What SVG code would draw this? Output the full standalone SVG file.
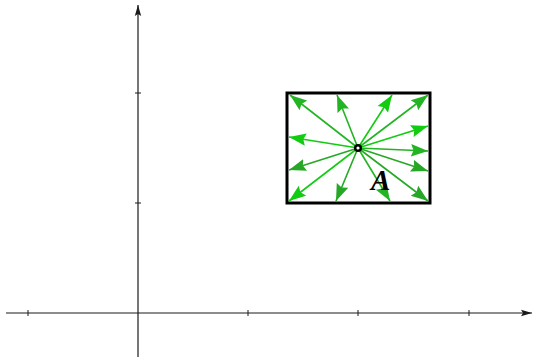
<svg xmlns="http://www.w3.org/2000/svg" width="533" height="357" viewBox="0 0 533 357">
<style>
.axis{stroke:#1a1a1a;stroke-width:1.2;fill:none}
.tick{stroke:#1a1a1a;stroke-width:1}
.vec{stroke-width:1.6;fill:none}
.g1{stroke:#22b422}
.g2{stroke:#11cc11}
.g3{stroke:#26a826}
</style>
<defs>
<marker id="ax" markerUnits="userSpaceOnUse" markerWidth="12" markerHeight="8" viewBox="0 0 12 8" refX="11" refY="4" orient="auto">
<path d="M0,0.8 L11,4 L0,7.2 L2,4 Z" fill="#1a1a1a"/>
</marker>
<marker id="m1" markerUnits="userSpaceOnUse" markerWidth="18" markerHeight="14" viewBox="0 0 18 14" refX="17" refY="7" orient="auto">
<path d="M0,0.8 L17,7 L0,13.2 L2.5,7 Z" fill="#22b422"/>
</marker>
<marker id="m2" markerUnits="userSpaceOnUse" markerWidth="18" markerHeight="14" viewBox="0 0 18 14" refX="17" refY="7" orient="auto">
<path d="M0,0.8 L17,7 L0,13.2 L2.5,7 Z" fill="#11cc11"/>
</marker>
<marker id="m3" markerUnits="userSpaceOnUse" markerWidth="18" markerHeight="14" viewBox="0 0 18 14" refX="17" refY="7" orient="auto">
<path d="M0,0.8 L17,7 L0,13.2 L2.5,7 Z" fill="#26a826"/>
</marker>
</defs>
<rect width="533" height="357" fill="#ffffff"/>
<g id="axes">
<line class="axis" x1="6" y1="313" x2="532" y2="313" marker-end="url(#ax)"/>
<line class="axis" x1="138" y1="357" x2="138" y2="5" marker-end="url(#ax)"/>
<line class="tick" x1="28" y1="310" x2="28" y2="316"/>
<line class="tick" x1="248" y1="310" x2="248" y2="316"/>
<line class="tick" x1="358" y1="310" x2="358" y2="316"/>
<line class="tick" x1="469" y1="310" x2="469" y2="316"/>
<line class="tick" x1="135" y1="203" x2="141" y2="203"/>
<line class="tick" x1="135" y1="93" x2="141" y2="93"/>
</g>
<g id="region-A">
<rect x="287" y="93" width="143" height="110" fill="none" stroke="#000" stroke-width="3"/>
</g>
<g id="connectors">
<line class="vec g1" x1="358" y1="148" x2="290" y2="95" marker-end="url(#m1)"/>
<line class="vec g1" x1="358" y1="148" x2="337" y2="95" marker-end="url(#m1)"/>
<line class="vec g2" x1="358" y1="148" x2="392" y2="95" marker-end="url(#m2)"/>
<line class="vec g1" x1="358" y1="148" x2="428" y2="95" marker-end="url(#m1)"/>
<line class="vec g2" x1="358" y1="148" x2="428" y2="126" marker-end="url(#m2)"/>
<line class="vec g1" x1="358" y1="148" x2="428" y2="151" marker-end="url(#m1)"/>
<line class="vec g3" x1="358" y1="148" x2="428" y2="171" marker-end="url(#m3)"/>
<line class="vec g3" x1="358" y1="148" x2="428" y2="201" marker-end="url(#m3)"/>
<line class="vec g1" x1="358" y1="148" x2="390" y2="201" marker-end="url(#m1)"/>
<line class="vec g3" x1="358" y1="148" x2="336" y2="201" marker-end="url(#m3)"/>
<line class="vec g2" x1="358" y1="148" x2="289" y2="201" marker-end="url(#m2)"/>
<line class="vec g3" x1="358" y1="148" x2="289" y2="170" marker-end="url(#m3)"/>
<line class="vec g2" x1="358" y1="148" x2="289" y2="137" marker-end="url(#m2)"/>
</g>
<g id="center-point">
<circle cx="358" cy="148" r="2.8" fill="#fff" stroke="#000" stroke-width="2.4"/>
</g>
<g id="label-A">
<text x="371" y="190" font-family="Liberation Serif, serif" font-size="29" font-style="italic" font-weight="bold" fill="#000">A</text>
</g>
</svg>
